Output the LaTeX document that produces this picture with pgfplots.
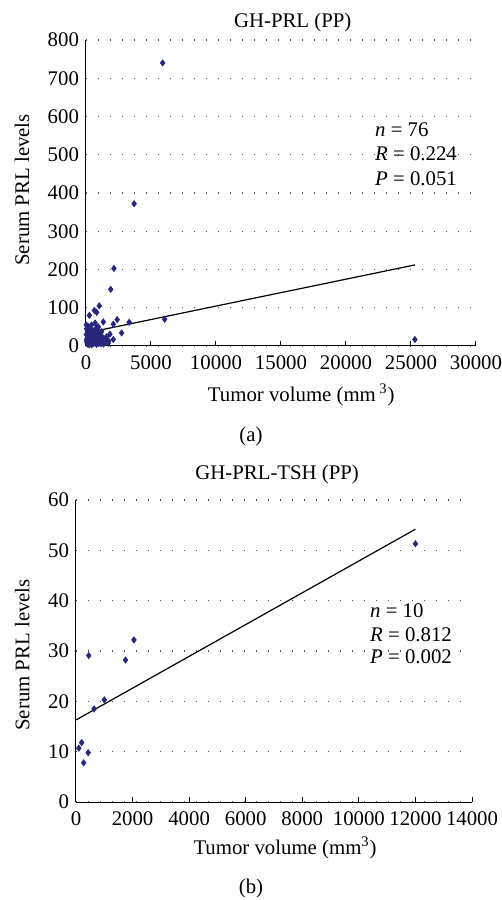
\documentclass[border=0pt]{standalone}
\usepackage{fontspec}
\setmainfont{Liberation Serif}
\usepackage{pgfplots}
\pgfplotsset{compat=1.18}
\definecolor{navy}{RGB}{40,40,125}

\pgfplotsset{
  prl/.style={
    scale only axis,
    axis x line*=bottom,
    axis y line*=left,
    axis line style={-, line width=0.5pt},
    font=\fontsize{10.4}{12.5}\selectfont,
    /pgf/number format/assume math mode=true,
    /pgf/number format/1000 sep={},
    scaled ticks=false,
    ymajorgrids,
    major grid style={black!70, line width=0.6pt, dash pattern=on 0.6pt off 5.4pt},
    ytick style={draw=none},
    xtick style={black, line width=0.5pt},
    major tick length=2.5pt,
    tick align=inside,
    xticklabel style={yshift=-1.5pt},
    every axis title shift=0pt,
    clip=false,
  },
  pts/.style={only marks, mark=diamond*, mark size=1.5pt, color=navy},
  fit/.style={black, line width=0.6pt, no marks},
}

\begin{document}
\begin{tikzpicture}
\path[use as bounding box] (0,0) rectangle (251pt,450pt);

% (a) GH-PRL
\begin{axis}[prl,
    at={(43pt,277pt)}, anchor=south west,
    width=195pt, height=153pt,
    xmin=0, xmax=30000, ymin=0, ymax=800,
    xtick={0,5000,...,30000}, ytick={0,100,...,800},
    title={GH-PRL (PP)},
    title style={at={(axis description cs:0.53,1.056)}, anchor=center},
    xlabel={Tumor volume (mm\,\textsuperscript{3})},
    xlabel style={at={(axis description cs:0.552,-0.16)}, anchor=center},
    ylabel={Serum PRL levels},
    ylabel style={at={(axis description cs:-0.164,0.51)}, anchor=center},
]
\addplot[pts] coordinates {
  (5900,740) (3700,372) (2150,203) (1900,148) (1020,105) (640,93) (820,88)
  (260,80) (1330,63) (2400,69) (3320,62) (6050,70) (25300,17) (20,55)
  (820,48) (330,45) (2100,57) (1070,35) (1840,31) (2740,34) (540,40)
  (130,25) (2100,17) (1580,24) (50,45) (150,52) (420,55) (700,60)
  (950,50) (1200,38) (480,30) (760,28) (900,20) (1100,15) (1300,22)
  (1500,10) (1700,7) (1750,13) (60,10) (120,5) (200,14) (300,8)
  (350,20) (450,12) (550,6) (600,16) (650,22) (720,9) (800,4)
  (850,12) (980,7) (1050,25) (1150,6) (1250,10) (1400,18) (30,30)
  (80,20) (170,35) (250,3) (380,32) (500,18) (580,26) (680,36)
  (750,42) (880,30) (1000,12) (1120,28) (1350,5) (1600,15) (40,15)
  (100,38) (230,28) (310,12) (430,3) (620,8) (940,40)
};
\addplot[fit] coordinates {(0,34) (25300,212)};
\node[anchor=west] at (axis cs:21700,565) {\textit{n} = 76};
\node[anchor=west] at (axis cs:21700,502) {\textit{R} = 0.224};
\node[anchor=west] at (axis cs:21700,437) {\textit{P} = 0.051};
\end{axis}

% (b) GH-PRL-TSH
\begin{axis}[prl,
    at={(38pt,49pt)}, anchor=south west,
    width=198pt, height=151pt,
    xmin=0, xmax=14000, ymin=0, ymax=60,
    xtick={0,2000,...,14000}, ytick={0,10,...,60},
    title={GH-PRL-TSH (PP)},
    title style={at={(axis description cs:0.508,1.083)}, anchor=center},
    xlabel={Tumor volume (mm\textsuperscript{3})},
    xlabel style={at={(axis description cs:0.528,-0.152)}, anchor=center},
    ylabel={Serum PRL levels},
    ylabel style={at={(axis description cs:-0.136,0.487)}, anchor=center},
]
\addplot[pts] coordinates {
  (100,10.7) (200,11.8) (270,7.8) (430,9.8) (450,29.1)
  (640,18.5) (1000,20.3) (1750,28.2) (2050,32.2) (12000,51.3)
};
\addplot[fit] coordinates {(0,16.3) (12000,54.2)};
\node[anchor=west] at (axis cs:10150,38.1) {\textit{n} = 10};
\node[anchor=west] at (axis cs:10150,33.2) {\textit{R} = 0.812};
\node[anchor=west] at (axis cs:10150,28.8) {\textit{P} = 0.002};
\end{axis}

\node[font=\fontsize{10.4}{12.5}\selectfont] at (125.5pt,231.5pt) {(a)};
\node[font=\fontsize{10.4}{12.5}\selectfont] at (125.5pt,6pt) {(b)};
\end{tikzpicture}
\end{document}
